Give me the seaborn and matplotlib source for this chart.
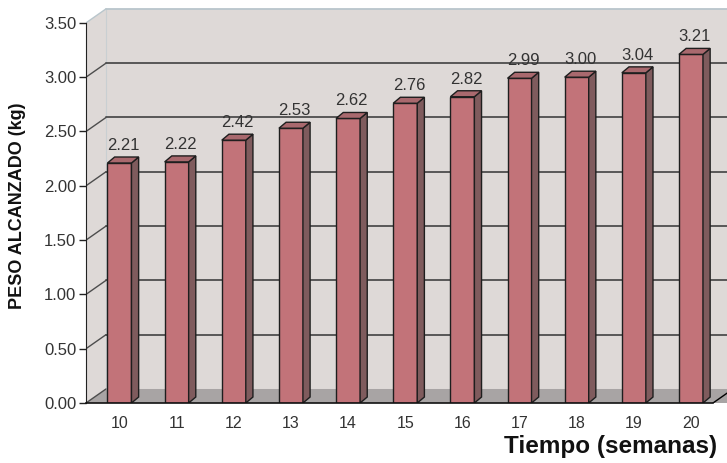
import numpy as np
import seaborn as sns
import matplotlib
matplotlib.use("Agg")
from matplotlib import pyplot as plt
from matplotlib.patches import Polygon

# data
semanas = [10, 11, 12, 13, 14, 15, 16, 17, 18, 19, 20]
peso = [2.21, 2.22, 2.42, 2.53, 2.62, 2.76, 2.82, 2.99, 3.00, 3.04, 3.21]
y_ticks = [0.0, 0.5, 1.0, 1.5, 2.0, 2.5, 3.0, 3.5]

# colours
WALL = "#ded9d7"
FLOOR = "#a8a4a4"
FRONT = "#c27379"
SIDE = "#7f5b5d"
TOP = "#a9696e"
GRID = "#4d4d4d"
TXT = "#333333"

sns.set_style("white")
plt.rcParams["font.family"] = ["Liberation Sans", "DejaVu Sans"]

fig = plt.figure(figsize=(7.27, 4.63), dpi=100)
ax = fig.add_axes([86 / 727, 60 / 463, 641 / 727, 395 / 463])

xl, xr = -0.586, 10.63
x_end = 10.385

# depth of the back wall and of each bar (data units)
DX, DY = 0.35, 0.129
ddx, ddy = 0.125, 0.055

ymax = y_ticks[-1]
# back wall and floor
ax.add_patch(Polygon([(xl, 0), (xl, ymax), (xl + DX, ymax + DY), (xr, ymax + DY), (xr, 0)],
                     closed=True, facecolor=WALL, edgecolor="none", zorder=0))
ax.add_patch(Polygon([(xl, 0), (xl + DX, DY), (xr, DY), (xr, 0), (x_end, 0)],
                     closed=True, facecolor=FLOOR, edgecolor="none", zorder=0.2))
ax.plot([x_end, x_end + DX], [0, DY], color="black", lw=1, zorder=0.3)

for v in y_ticks:
    c = "#b9c6cc" if v == ymax else GRID
    ax.plot([xl, xl + DX], [v, v + DY], color=c, lw=1, zorder=0.4)
    if 0 < v:
        ax.plot([xl + DX, xr], [v + DY, v + DY], color=c, lw=1.3, zorder=0.4)
ax.plot([xl + DX, xl + DX], [DY, ymax + DY], color="#c9cfd2", lw=0.8, zorder=0.3)

sns.barplot(x=semanas, y=peso, color=FRONT, width=0.42, saturation=1,
            edgecolor="#1e1e1e", linewidth=1.0, ax=ax, zorder=2)

for p, v in zip(ax.patches[2:], peso):
    x0, w, h = p.get_x(), p.get_width(), p.get_height()
    x1 = x0 + w
    ax.add_patch(Polygon([(x1, 0), (x1, h), (x1 + ddx, h + ddy), (x1 + ddx, ddy)],
                         closed=True, facecolor=SIDE, edgecolor="#1e1e1e", lw=1.0, zorder=2))
    ax.add_patch(Polygon([(x0, h), (x1, h), (x1 + ddx, h + ddy), (x0 + ddx, h + ddy)],
                         closed=True, facecolor=TOP, edgecolor="#1e1e1e", lw=1.0, zorder=2))
    ax.annotate(f"{v:.2f}", (x0 + w / 2 + ddx / 2, h + ddy), xytext=(0, 3),
                textcoords="offset points", ha="center", va="bottom",
                fontsize=12, color=TXT, zorder=3)

# seaborn resets the limits, so set them afterwards
ax.set_xlim(xl, xr)
ax.set_ylim(0, 3.637)

# axes styling
for s in ["top", "right"]:
    ax.spines[s].set_visible(False)
ax.spines["left"].set_bounds(0, ymax)
ax.spines["left"].set_color("#222222")
ax.spines["bottom"].set_bounds(xl, x_end)
ax.spines["bottom"].set_color("#111111")
ax.spines["bottom"].set_linewidth(1.2)

ax.set_yticks(y_ticks)
ax.set_yticklabels([f"{v:.2f}" for v in y_ticks])
ax.tick_params(axis="y", length=5, width=1, color="#222222", pad=2,
               labelsize=12, labelcolor=TXT, left=True)
ax.tick_params(axis="x", length=0, pad=9, labelsize=11.5, labelcolor=TXT)
ax.set_xlabel("")
ax.set_ylabel("")

fig.text(18 / 727, 1 - 206 / 463, "PESO ALCANZADO (kg)", rotation=90,
         ha="center", va="center", fontsize=13, fontweight="bold", color="#111111")
fig.text(717 / 727, 1 - 447 / 463, "Tiempo (semanas)", ha="right", va="center",
         fontsize=17.5, fontweight="bold", color="#111111")

fig.savefig("out.png", dpi=100)
